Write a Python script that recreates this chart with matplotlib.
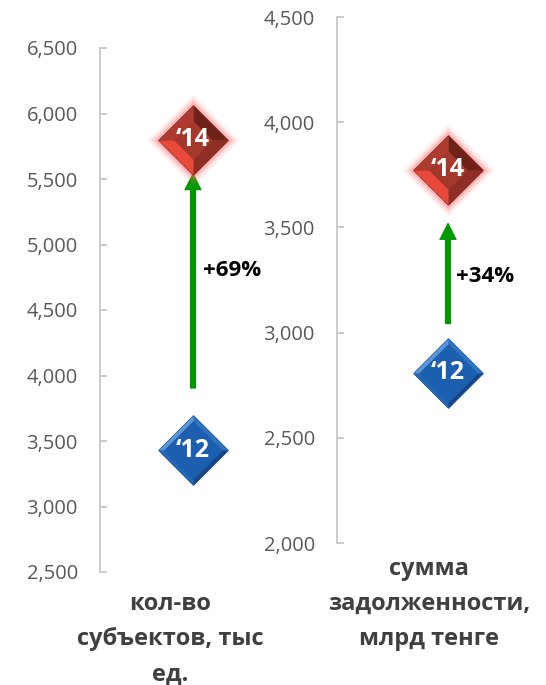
import matplotlib
matplotlib.use("Agg")
import matplotlib.pyplot as plt
from matplotlib.path import Path
from matplotlib.ticker import MultipleLocator, FuncFormatter

plt.rcParams['font.family'] = ['Open Sans', 'DejaVu Sans']

# data
categories = ['кол-во\nсубъектов, тыс\nед.', 'сумма\nзадолженности,\nмлрд тенге']
values_2012 = [3430, 2810]
values_2014 = [5800, 3775]
arrow_from = [3900, 3040]
arrow_to = [5550, 3525]
growth = ['+69%', '+34%']
growth_y = [4800, 3265]
y_limits = [(2500, 6500), (2000, 4500)]
y_step = 500
year_labels = ['\u201812', '\u201814']


def band(k, quad):
    # bevel band between outer diamond and inner one scaled by k
    outer = [(0, 1), (1, 0), (0, -1), (-1, 0)]
    i, j = quad, (quad + 1) % 4
    verts = [outer[i], outer[j],
             (outer[j][0] * k, outer[j][1] * k), (outer[i][0] * k, outer[i][1] * k),
             outer[i]]
    return Path(verts, closed=True)


DIAMOND = Path([(0, 1), (1, 0), (0, -1), (-1, 0), (0, 1)], closed=True)


def gem(ax, x, y, size, k, inner, bands, edge, glow=None):
    if glow:
        for s, a in [(size + 16, 0.10), (size + 11, 0.18), (size + 6, 0.30)]:
            ax.plot(x, y, marker=DIAMOND, ms=s, color=glow, alpha=a, mew=0, zorder=3)
    ax.plot(x, y, marker=DIAMOND, ms=size, color=inner, mec=edge, mew=0.8, zorder=4)
    # quads: 0 top-right, 1 bottom-right, 2 bottom-left, 3 top-left
    for q, c in enumerate(bands):
        ax.plot(x, y, marker=band(k, q), ms=size, color=c, mew=0, zorder=5)
    ax.plot(x, y, marker=DIAMOND, ms=size * k, color=inner, mew=0, zorder=6)


fig = plt.figure(figsize=(5.46, 6.85), dpi=100)

axes_pos = [
    [100 / 546, 113 / 685, 186 / 546, 524 / 685],
    [337 / 546, 142 / 685, 222 / 546, 526 / 685],
]
label_x = [170 / 546, 429 / 546]
label_top = [1 - 592 / 685, 1 - 557 / 685]
growth_x = [0.555, 0.536]

for n in range(2):
    ax = fig.add_axes(axes_pos[n])
    ax.set_xlim(0, 1)
    ax.set_ylim(*y_limits[n])
    for s in ['top', 'right', 'bottom']:
        ax.spines[s].set_visible(False)
    ax.spines['left'].set_color('#c8c8c8')
    ax.spines['left'].set_linewidth(1.3)
    ax.set_xticks([])
    ax.yaxis.set_major_locator(MultipleLocator(y_step))
    ax.yaxis.set_major_formatter(FuncFormatter(lambda v, p: f'{v:,.0f}'))
    ax.tick_params(axis='y', direction='in', length=5, width=1.3, color='#c8c8c8',
                   labelcolor='#595959', labelsize=14.5, pad=16)
    ax.patch.set_alpha(0)

    # growth arrow
    ax.annotate('', xy=(0.5, arrow_to[n]), xytext=(0.5, arrow_from[n]),
                arrowprops=dict(arrowstyle='simple,head_width=0.64,head_length=0.64,tail_width=0.22',
                                color='#009a00', mutation_scale=20, shrinkA=0, shrinkB=0, lw=0),
                zorder=2)
    ax.text(growth_x[n], growth_y[n], growth[n], fontsize=16, fontweight='bold',
            color='black', ha='left', va='center')

    # 2012 blue gem
    gem(ax, 0.5, values_2012[n], 50, 0.84, '#1b5fae',
        ['#2f73c2', '#17478a', '#2566b4', '#5a95da'], '#2a5890')
    ax.text(0.5, values_2012[n], year_labels[0], color='white', fontsize=18,
            fontweight='bold', ha='center', va='center', zorder=10)

    # 2014 red gem
    gem(ax, 0.5, values_2014[n], 50, 0.55, '#a4382c',
        ['#6f2219', '#8e2e24', '#e8493a', '#ad3b2f'], '#8a2c22', glow='#ff6b6b')
    ax.text(0.5, values_2014[n], year_labels[1], color='white', fontsize=18,
            fontweight='bold', ha='center', va='center', zorder=10)

    fig.text(label_x[n], label_top[n], categories[n], ha='center', va='top',
             fontsize=17, fontweight='bold', color='#404040', linespacing=1.62)

fig.savefig('out.png', dpi=100)
